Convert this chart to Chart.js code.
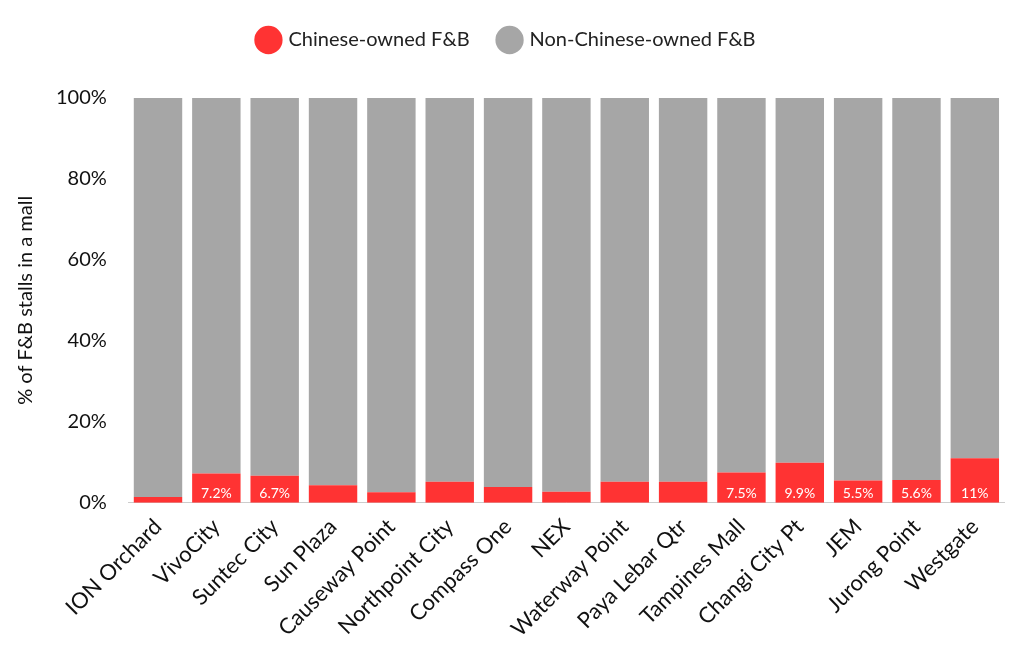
<!DOCTYPE html>
<html><head><meta charset="utf-8">
<script src="https://cdn.jsdelivr.net/npm/chart.js@4"></script>
<style>html,body{margin:0;background:#fff}#w{width:1024px;height:645px}</style>
</head><body><div id="w"><canvas id="c"></canvas></div>
<script>
const categories = ["ION Orchard","VivoCity","Suntec City","Sun Plaza","Causeway Point","Northpoint City","Compass One","NEX","Waterway Point","Paya Lebar Qtr","Tampines Mall","Changi City Pt","JEM","Jurong Point","Westgate"];
const chinese = [1.4,7.2,6.7,4.3,2.6,5.2,3.9,2.7,5.2,5.2,7.5,9.9,5.5,5.6,11];
const shownLabels = ["","7.2%","6.7%","","","","","","","","7.5%","9.9%","5.5%","5.6%","11%"];
const nonChinese = chinese.map(v => 100 - v);
const yTicks = ["0%","20%","40%","60%","80%","100%"];
const F = "Lato, 'Open Sans', sans-serif";
const labelPlugin = {
  id: 'lbl',
  afterDatasetsDraw(chart) {
    const ctx = chart.ctx, meta = chart.getDatasetMeta(0);
    ctx.save(); ctx.fillStyle = '#fff'; ctx.font = '14px ' + F;
    ctx.textAlign = 'center'; ctx.textBaseline = 'bottom';
    meta.data.forEach((b, i) => { if (shownLabels[i]) ctx.fillText(shownLabels[i], b.x, b.base - 2); });
    ctx.restore();
  }
};
const legendSpace = { id: 'ls', beforeInit(chart) { const f = chart.legend.fit; chart.legend.fit = function () { f.bind(chart.legend)(); this.height += 38; }; } };
new Chart(document.getElementById('c'), {
  type: 'bar',
  data: { labels: categories, datasets: [
    { label: 'Chinese-owned F&B', data: chinese, backgroundColor: '#ff3333', borderWidth: 0 },
    { label: 'Non-Chinese-owned F&B', data: nonChinese, backgroundColor: '#a6a6a6', borderWidth: 0 }
  ]},
  options: {
    responsive: true, maintainAspectRatio: false, animation: false,
    layout: { padding: { left: 10, right: 20, top: 0, bottom: 0 } },
    datasets: { bar: { categoryPercentage: 0.83, barPercentage: 1 } },
    plugins: {
      legend: { position: 'top', labels: { usePointStyle: true, pointStyle: 'circle', boxWidth: 22, boxHeight: 22, padding: 30, color: '#222', font: { size: 20, family: F } } },
      tooltip: { enabled: false }
    },
    scales: {
      x: { stacked: true, grid: { display: false }, border: { color: '#ccc' },
           ticks: { color: '#111', maxRotation: 45, minRotation: 45, font: { size: 22, family: F } } },
      y: { stacked: true, min: 0, max: 100, grid: { display: false }, border: { display: false },
           ticks: { stepSize: 20, color: '#111', padding: 14, font: { size: 20, family: F }, callback: (v, i) => yTicks[i] },
           title: { display: true, text: '% of F&B stalls in a mall', color: '#111', font: { size: 20, family: F } } }
    }
  },
  plugins: [labelPlugin, legendSpace]
});
</script></body></html>
